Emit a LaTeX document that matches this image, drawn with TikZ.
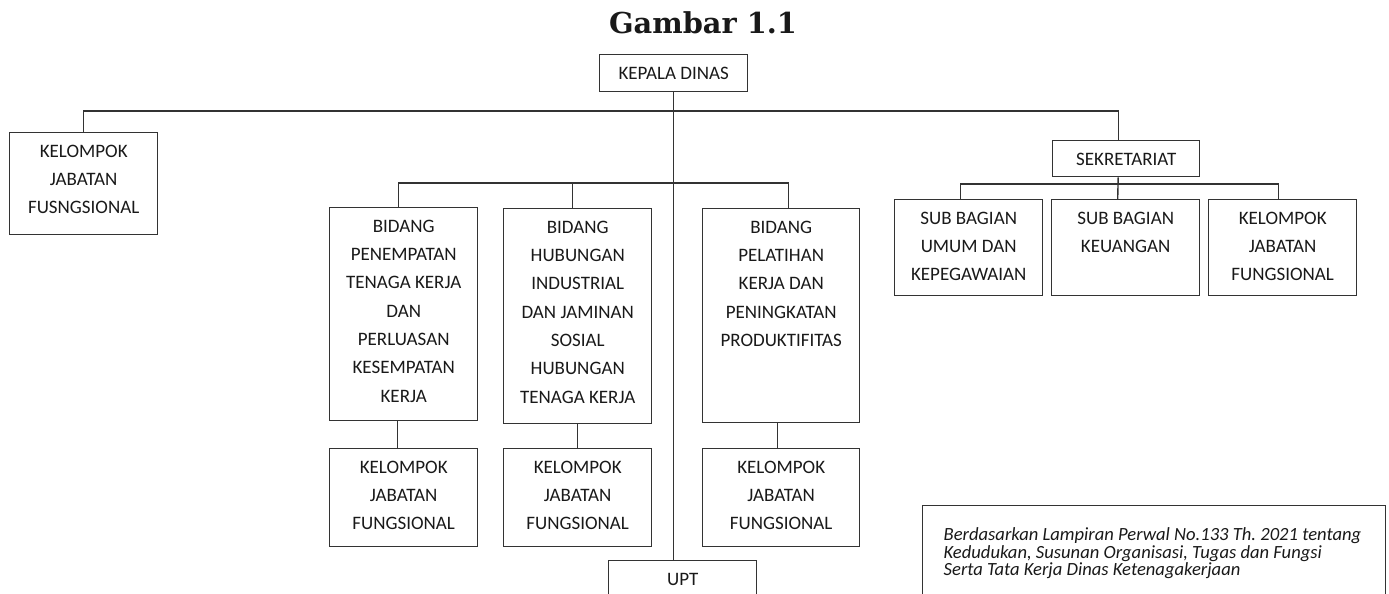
\documentclass[tikz,border=0pt]{standalone}
\usepackage{fontspec}
\setmainfont{Carlito}
\newfontfamily\judulfont{DejaVu Serif}
\usepackage{tikz}

\begin{document}
\begin{tikzpicture}[
   x=0.5pt,
   y=-0.5pt,
   line join=miter,
   every node/.style={text=black!90},
   garis/.style={draw=black!80,line width=0.7pt},
   kotak/.style 2 args={draw=black!80,line width=0.7pt,inner sep=0pt,anchor=north west,
     execute at begin node={\begin{minipage}[c][#2][t]{#1}\centering
       \fontsize{9.5pt}{14.15pt}\selectfont\rule{0pt}{12.3pt}},
     execute at end node={\end{minipage}}},
   catatan/.style={draw=black!80,line width=0.7pt,inner sep=0pt,anchor=north west,
     execute at begin node={\begin{minipage}[c][55pt][t]{231.5pt}\raggedright
       \leftskip=10.5pt\frenchspacing\itshape\lineskiplimit=-10pt
       \fontsize{9.3pt}{8.6pt}\selectfont\rule{0pt}{17.6pt}},
     execute at end node={\end{minipage}}}
 ]
   \useasboundingbox (0,0) rectangle (1389,594);
   \clip (0,0) rectangle (1389,594);

   % Judul gambar.
   \node[anchor=base,font=\judulfont\bfseries\fontsize{14.4pt}{16pt}\selectfont]
     (judul) at (703,33) {Gambar 1.1};

   % Pimpinan dan sekretariat.
   \node[kotak={74pt}{18.5pt}] (kadis) at (599,54) {KEPALA DINAS};
   \node[kotak={74pt}{51pt}] (kjfkiri) at (9,132) {KELOMPOK\\JABATAN\\FUSNGSIONAL};
   \node[kotak={73.5pt}{18pt}] (sekre) at (1052,140) {SEKRETARIAT};
   \node[kotak={74pt}{48pt}] (umum) at (894,199) {SUB BAGIAN\\UMUM DAN\\KEPEGAWAIAN};
   \node[kotak={74pt}{48pt}] (keu) at (1051,199) {SUB BAGIAN\\KEUANGAN};
   \node[kotak={74pt}{48pt}] (kjfsekre) at (1208,199) {KELOMPOK\\JABATAN\\FUNGSIONAL};

   % Bidang-bidang.
   \node[kotak={74pt}{106.5pt}] (penempatan) at (329,207)
     {BIDANG\\PENEMPATAN\\TENAGA KERJA\\DAN\\PERLUASAN\\KESEMPATAN\\KERJA};
   \node[kotak={74pt}{107.5pt}] (hubungan) at (503,208)
     {BIDANG\\HUBUNGAN\\INDUSTRIAL\\DAN JAMINAN\\SOSIAL\\HUBUNGAN\\TENAGA KERJA};
   \node[kotak={78.5pt}{107pt}] (pelatihan) at (702,208)
     {BIDANG\\PELATIHAN\\KERJA DAN\\PENINGKATAN\\PRODUKTIFITAS};
   \node[kotak={74pt}{49pt}] (kjfpenempatan) at (329,448) {KELOMPOK\\JABATAN\\FUNGSIONAL};
   \node[kotak={74pt}{49pt}] (kjfhubungan) at (503,448) {KELOMPOK\\JABATAN\\FUNGSIONAL};
   \node[kotak={78.5pt}{49pt}] (kjfpelatihan) at (702,448) {KELOMPOK\\JABATAN\\FUNGSIONAL};
   \node[kotak={74pt}{30pt}] (upt) at (608,560) {UPT};

   % Dasar hukum.
   \node[catatan] (dasar) at (922,505)
     {Berdasarkan Lampiran Perwal No.133 Th. 2021 tentang\\
      Kedudukan, Susunan Organisasi, Tugas dan Fungsi\\
      Serta Tata Kerja Dinas Ketenagakerjaan};

   % Garis hubungan.
   \coordinate (cabang) at (672,111);
   \coordinate (cabangbidang) at (672,183);
   \coordinate (cabangsekre) at (1117,184);
   \draw[garis] (kadis.south) -- (kadis.south |- upt.north);
   \draw[garis] (kjfkiri.north) |- (cabang) -| ([xshift=-4pt]sekre.north);
   \draw[garis] ([xshift=-2.5pt]penempatan.north) |- (cabangbidang)
     -| ([xshift=3.75pt]pelatihan.north);
   \draw[garis] ([xshift=-2.5pt]hubungan.north) -- ([xshift=-2.5pt]hubungan.north |- cabangbidang);
   \draw[garis] ([xshift=-3pt]penempatan.south) -- ([xshift=-3pt]kjfpenempatan.north);
   \draw[garis] (hubungan.south) -- (kjfhubungan.north);
   \draw[garis] ([xshift=-2pt]pelatihan.south) -- ([xshift=-2pt]kjfpelatihan.north);
   \draw[garis] ([xshift=-4pt]sekre.south) -- ([xshift=-4pt]keu.north);
   \draw[garis] ([xshift=-4pt]umum.north) |- (cabangsekre) -| ([xshift=-2pt]kjfsekre.north);
 \end{tikzpicture}
\end{document}
